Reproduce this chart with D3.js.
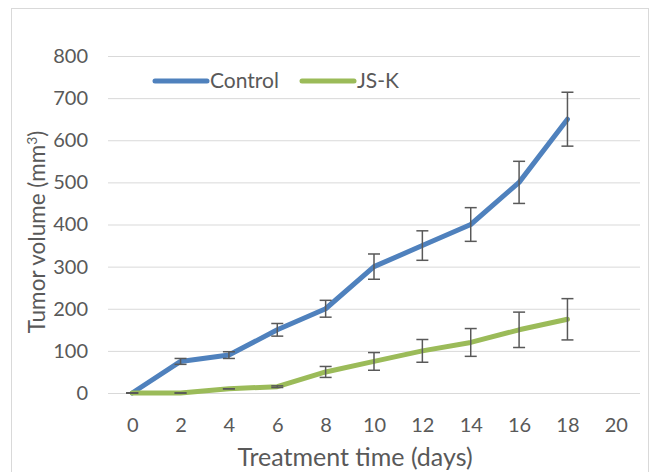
<!DOCTYPE html>
<html>
<head>
<meta charset="utf-8">
<script src="https://cdn.jsdelivr.net/npm/d3@7"></script>
<style>
  body { margin: 0; background: #fff; }
  svg { font-family: Lato, "Open Sans", sans-serif; }
</style>
</head>
<body>
<svg width="652" height="472"></svg>
<script>
// data
var days = [0, 2, 4, 6, 8, 10, 12, 14, 16, 18];
var control = [0, 75, 90, 150, 200, 300, 350, 400, 500, 650];
var controlErr = [0, 7, 8, 15, 20, 30, 35, 40, 50, 64];
var jsk = [0, 0, 10, 15, 50, 75, 100, 120, 150, 175];
var jskErr = [0, 0, 0, 2, 13, 21, 27, 33, 42, 49];
var xTicks = [0, 2, 4, 6, 8, 10, 12, 14, 16, 18, 20];
var yTicks = [0, 100, 200, 300, 400, 500, 600, 700, 800];

var svg = d3.select("svg");

// chart border
svg.append("rect")
    .attr("x", 11.5).attr("y", 8.5)
    .attr("width", 637).attr("height", 470)
    .attr("fill", "none")
    .attr("stroke", "#d9d9d9");

var x = d3.scaleLinear().domain([-1, 21]).range([108, 640]);
var y = d3.scaleLinear().domain([0, 800]).range([393, 56]);

// gridlines
svg.append("g")
  .selectAll("line")
  .data(yTicks)
  .enter().append("line")
    .attr("x1", x(-1)).attr("x2", x(21))
    .attr("y1", function(d) { return y(d) + 0.5; })
    .attr("y2", function(d) { return y(d) + 0.5; })
    .attr("stroke", "#d9d9d9")
    .attr("stroke-width", 1);

// y axis labels
var yAxis = svg.append("g")
    .attr("transform", "translate(" + x(-1) + ",0)")
    .call(d3.axisLeft(y).tickValues(yTicks).tickSize(0).tickPadding(20));
yAxis.select(".domain").remove();
yAxis.selectAll("text")
    .attr("font-family", "Lato, 'Open Sans', sans-serif")
    .attr("font-size", 20)
    .attr("fill", "#595959");

// x axis labels
var xAxis = svg.append("g")
    .attr("transform", "translate(0," + y(0) + ")")
    .call(d3.axisBottom(x).tickValues(xTicks).tickSize(0).tickPadding(25));
xAxis.select(".domain").remove();
xAxis.selectAll("text")
    .attr("font-family", "Lato, 'Open Sans', sans-serif")
    .attr("font-size", 20)
    .attr("fill", "#595959");

// axis titles
svg.append("text")
    .attr("x", 355).attr("y", 466)
    .attr("text-anchor", "middle")
    .attr("font-size", 25)
    .attr("fill", "#595959")
    .text("Treatment time (days)");

var yTitle = svg.append("text")
    .attr("transform", "translate(45,232) rotate(-90)")
    .attr("text-anchor", "middle")
    .attr("font-size", 22.5)
    .attr("fill", "#595959");
yTitle.append("tspan").text("Tumor volume (mm");
yTitle.append("tspan").attr("dy", -8).attr("font-size", 14).text("3");
yTitle.append("tspan").attr("dy", 8).text(")");

var series = [
  {name: "Control", values: control, err: controlErr, color: "#4f81bd"},
  {name: "JS-K", values: jsk, err: jskErr, color: "#9bbb59"}
];

var line = d3.line()
    .x(function(d, i) { return x(days[i]); })
    .y(function(d) { return y(d); });

series.forEach(function(s) {
  svg.append("path")
      .datum(s.values)
      .attr("d", line)
      .attr("fill", "none")
      .attr("stroke", s.color)
      .attr("stroke-width", 5)
      .attr("stroke-linejoin", "round")
      .attr("stroke-linecap", "round");
});

// error bars on top of lines
series.forEach(function(s) {
  var eb = svg.append("g")
      .attr("stroke", "#595959")
      .attr("stroke-width", 1.5)
    .selectAll("g")
    .data(days.map(function(d, i) { return {x: d, v: s.values[i], e: s.err[i]}; }))
    .enter().append("g");
  eb.append("line")
      .attr("x1", function(d) { return x(d.x); })
      .attr("x2", function(d) { return x(d.x); })
      .attr("y1", function(d) { return y(d.v + d.e); })
      .attr("y2", function(d) { return y(d.v - d.e); });
  eb.append("line")
      .attr("x1", function(d) { return x(d.x) - 6; })
      .attr("x2", function(d) { return x(d.x) + 6; })
      .attr("y1", function(d) { return y(d.v + d.e); })
      .attr("y2", function(d) { return y(d.v + d.e); });
  eb.append("line")
      .attr("x1", function(d) { return x(d.x) - 6; })
      .attr("x2", function(d) { return x(d.x) + 6; })
      .attr("y1", function(d) { return y(d.v - d.e); })
      .attr("y2", function(d) { return y(d.v - d.e); });
});

// legend
var legend = svg.append("g")
  .selectAll("g")
  .data(series)
  .enter().append("g")
    .attr("transform", function(d, i) { return "translate(" + (155 + i * 147) + ",81)"; });

legend.append("line")
    .attr("x1", 0).attr("x2", 52)
    .attr("stroke", function(d) { return d.color; })
    .attr("stroke-width", 5)
    .attr("stroke-linecap", "round");

legend.append("text")
    .attr("x", 55)
    .attr("dy", "0.35em")
    .attr("font-size", 21)
    .attr("fill", "#595959")
    .text(function(d) { return d.name; });
</script>
</body>
</html>
